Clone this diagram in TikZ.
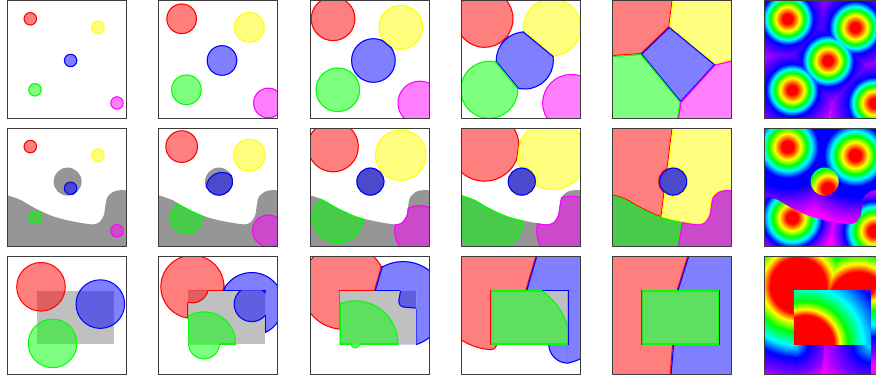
\documentclass[tikz,border=0pt]{standalone}
\usetikzlibrary{calc}
\definecolor{mud}{RGB}{150,150,150}
\definecolor{lgray}{RGB}{192,192,192}
\definecolor{framec}{RGB}{60,60,60}
\definecolor{mag}{rgb}{1,0,1}
\definecolor{yel}{rgb}{1,1,0}
\definecolor{cyn}{rgb}{0,1,1}
\definecolor{violetA}{rgb}{0.5,0,1}
\pgfdeclareradialshading{rainA}{\pgfpoint{0bp}{0bp}}{color(0bp)=(red); color(1.25bp)=(red); color(3bp)=(yel); color(4.25bp)=(green); color(5.25bp)=(cyn); color(6.5bp)=(blue); color(9.5bp)=(violetA); color(12.5bp)=(mag); color(50bp)=(mag)}
\pgfdeclareradialshading{rainW}{\pgfpoint{0bp}{0bp}}{color(0bp)=(red); color(1.5bp)=(red); color(3.25bp)=(yel); color(4.75bp)=(green); color(6bp)=(cyn); color(7.75bp)=(blue); color(10.5bp)=(blue); color(13.75bp)=(violetA); color(17.5bp)=(mag); color(50bp)=(mag)}
\pgfdeclareradialshading{rainG}{\pgfpoint{0bp}{0bp}}{color(0bp)=(red); color(1.5bp)=(red); color(3.25bp)=(yel); color(4.75bp)=(green); color(6bp)=(cyn); color(7.5bp)=(blue); color(9bp)=(violetA); color(11bp)=(mag); color(50bp)=(mag)}
\pgfdeclareradialshading{rainC}{\pgfpoint{0bp}{0bp}}{color(0bp)=(red); color(7bp)=(red); color(9bp)=(yel); color(11.5bp)=(green); color(15bp)=(cyn); color(18bp)=(blue); color(22bp)=(violetA); color(25bp)=(mag); color(50bp)=(mag)}
\pgfdeclareradialshading{rainCc}{\pgfpoint{0bp}{0bp}}{color(0bp)=(red); color(0.5bp)=(red); color(2.5bp)=(yel); color(5bp)=(green); color(8.5bp)=(cyn); color(11.5bp)=(blue); color(15.5bp)=(violetA); color(18.5bp)=(mag); color(50bp)=(mag)}
\pgfdeclareradialshading{rainCr}{\pgfpoint{0bp}{0bp}}{color(0bp)=(cyn); color(3.5bp)=(blue); color(7.5bp)=(violetA); color(10.5bp)=(mag); color(50bp)=(mag)}
\pgfdeclareradialshading{rainCb}{\pgfpoint{0bp}{0bp}}{color(0bp)=(cyn); color(4.5bp)=(blue); color(9bp)=(violetA); color(13.75bp)=(mag); color(50bp)=(mag)}
\pgfdeclareradialshading{rainD}{\pgfpoint{0bp}{0bp}}{color(0bp)=(red); color(7.25bp)=(red); color(8.75bp)=(yel); color(10.75bp)=(green); color(14.5bp)=(cyn); color(20bp)=(blue); color(25bp)=(mag); color(50bp)=(mag)}
\tikzset{bd/.style={line width=2pt}, frm/.style={draw=framec, line width=1pt}, half/.style={fill opacity=0.5}}
% half-plane clip (points nearer #1 than #2) and bisector stroke
\newcommand\halfclip[2]{\coordinate (hm) at ($(#1)!0.5!(#2)$);
  \clip ($(hm)!600pt!90:(#2)$) -- ($(hm)!600pt!-90:(#2)$) -- ($(hm)!1200pt!180:(#2)$) -- cycle;}
\newcommand\bisline[3]{\coordinate (hm) at ($(#1)!0.5!(#2)$);
  \draw[#3, bd] ($(hm)!600pt!90:(#2)$) -- ($(hm)!600pt!-90:(#2)$);}
\newcommand\cellR{\halfclip{R}{Y}\halfclip{R}{B}\halfclip{R}{G}\halfclip{R}{M}}
\newcommand\cellY{\halfclip{Y}{R}\halfclip{Y}{B}\halfclip{Y}{G}\halfclip{Y}{M}}
\newcommand\cellB{\halfclip{B}{R}\halfclip{B}{Y}\halfclip{B}{G}\halfclip{B}{M}}
\newcommand\cellG{\halfclip{G}{R}\halfclip{G}{Y}\halfclip{G}{B}\halfclip{G}{M}}
\newcommand\cellM{\halfclip{M}{R}\halfclip{M}{Y}\halfclip{M}{B}\halfclip{M}{G}}
\newcommand\linesR[1]{\bisline{R}{Y}{#1}\bisline{R}{B}{#1}\bisline{R}{G}{#1}\bisline{R}{M}{#1}}
\newcommand\linesY[1]{\bisline{Y}{R}{#1}\bisline{Y}{B}{#1}\bisline{Y}{G}{#1}\bisline{Y}{M}{#1}}
\newcommand\linesB[1]{\bisline{B}{R}{#1}\bisline{B}{Y}{#1}\bisline{B}{G}{#1}\bisline{B}{M}{#1}}
\newcommand\linesG[1]{\bisline{G}{R}{#1}\bisline{G}{Y}{#1}\bisline{G}{B}{#1}\bisline{G}{M}{#1}}
\newcommand\linesM[1]{\bisline{M}{R}{#1}\bisline{M}{Y}{#1}\bisline{M}{B}{#1}\bisline{M}{G}{#1}}
\newcommand\seedsA{\coordinate (R) at (23,18.3); \coordinate (Y) at (90.7,26.8); \coordinate (B) at (63.3,60); \coordinate (G) at (27.7,89.3); \coordinate (M) at (109.7,102.5);}
\newcommand\regA[3]{\begin{scope}\csname cell#1\endcsname\clip (#1) circle (#3);
  \fill[#2,half] (-5,-5) rectangle (125,125);
  \draw[#2,bd] (#1) circle (#3);
  \csname lines#1\endcsname{#2}\end{scope}}
\newcommand\rowone[1]{\seedsA\regA{R}{red}{#1}\regA{Y}{yel}{#1}\regA{B}{blue}{#1}\regA{G}{green}{#1}\regA{M}{mag}{#1}}
\newcommand\shadecell[2]{\begin{scope}\csname cell#1\endcsname\shade[shading=#2] (#1) circle (100);\end{scope}}
% row 2 domains
\newcommand\pathW{(-5,-5) -- (-5,67) -- plot[smooth] coordinates {(0,67) (13,71.5) (26,79) (43,87) (58,91.5) (76,95) (86,96) (92,94) (96.5,87) (98,78) (100,69) (106,63.5) (112,62) (119,62)} -- (125,62) -- (125,-5) -- cycle}
\newcommand\pathG{(-5,67) -- plot[smooth] coordinates {(0,67) (13,71.5) (26,79) (43,87) (58,91.5) (76,95) (86,96) (92,94) (96.5,87) (98,78) (100,69) (106,63.5) (112,62) (119,62)} -- (125,62) -- (125,125) -- (-5,125) -- cycle}
\newcommand\pathBnd{plot[smooth] coordinates {(0,67) (13,71.5) (26,79) (43,87) (58,91.5) (76,95) (86,96) (92,94) (96.5,87) (98,78) (100,69) (106,63.5) (112,62) (119,62)}}
\newcommand\pathD{(60.3,53.3) circle (14)}
\newcommand\inW{\clip \pathW \pathD;}
\newcommand\edgeW[1]{\draw[#1,bd] \pathBnd; \draw[#1,bd] \pathD;}
\newcommand\edgeG[1]{\draw[#1,bd] \pathBnd;}
\newcommand\regB[5]{\begin{scope}#4\clip (#1) circle (#3);
  \fill[#2,half] (-5,-5) rectangle (125,125);
  \draw[#2,bd] (#1) circle (#3); #5\end{scope}}
\newcommand\rowtwo[1]{\seedsA
  \fill[mud] \pathG; \fill[mud] \pathD;
  \regB{R}{red}{#1}{\inW\halfclip{R}{Y}}{\edgeW{red}\bisline{R}{Y}{red}}
  \regB{Y}{yel}{#1}{\inW\halfclip{Y}{R}}{\edgeW{yel}\bisline{Y}{R}{yel}}
  \regB{B}{blue}{#1}{\clip \pathD;}{\draw[blue,bd] \pathD;}
  \regB{G}{green}{#1}{\clip \pathG; \halfclip{G}{M}}{\edgeG{green}\bisline{G}{M}{green}}
  \regB{M}{mag}{#1}{\clip \pathG; \halfclip{M}{G}}{\edgeG{mag}\bisline{M}{G}{mag}}}
% row 3
\newcommand\qrect{(29.5,34.7) rectangle (106.3,88)}
\newcommand\seedsC{\coordinate (R) at (33.7,30.7); \coordinate (B) at (93,48); \coordinate (G) at (45.3,87.3); \coordinate (CL) at (29.5,88); \coordinate (CR) at (106.3,88); \coordinate (CT) at (106.3,34.7);}
\newcommand\clipout{\clip (-5,-5) rectangle (125,125) \qrect;}
\newcommand\clipin{\clip \qrect;}
\newcommand\notcirc[2]{\clip (-5,-5) rectangle (125,125) (#1) circle (#2);}
\newcommand\notrect[2]{\clip (-5,-5) rectangle (125,125) #1 rectangle #2;}
\newcommand\piece[6]{\begin{scope}#1#5\clip (#2) circle (#4);
  \fill[#3,half] (-5,-5) rectangle (125,125);
  \draw[#3,bd] (#2) circle (#4); #6\end{scope}}
\newcommand\qedge[2]{\begin{scope}#2\draw[#1,bd] \qrect;\end{scope}}
\newcommand\polyR{(-5,-5) -- (76.9,-5) -- (64.5,34.7) -- (60.2,88) -- (57.2,125) -- (-5,125) -- cycle}
\newcommand\polyB{(76.9,-5) -- (125,-5) -- (125,125) -- (57.2,125) -- (60.2,88) -- (64.5,34.7) -- cycle}
\newcommand\pnl[3]{\begin{scope}[shift={(#1,#2)}]
  \begin{scope}\clip (0,0) rectangle (119,118.5); #3\end{scope}
  \draw[frm] (0,0) rectangle (119,118.5);\end{scope}}
\begin{document}
\begin{tikzpicture}[x=1pt,y=-1pt,even odd rule]
\useasboundingbox (0,0) rectangle (876,379);
\clip (0,0) rectangle (876,379);
\fill[white] (0,0) rectangle (876,379);
% ---------- row 1
\pnl{7.3}{0.5}{\rowone{6.7}}
\pnl{158.7}{0.5}{\rowone{15.3}}
\pnl{310.1}{0.5}{\rowone{22.3}}
\pnl{461.5}{0.5}{\rowone{29}}
\pnl{612.9}{0.5}{\rowone{300}}
\pnl{764.3}{0.5}{\seedsA\shade[shading=rainA] (R) circle (100);
  \shadecell{Y}{rainA}\shadecell{B}{rainA}\shadecell{G}{rainA}\shadecell{M}{rainA}}
% ---------- row 2
\pnl{7.3}{128.3}{\rowtwo{6.7}}
\pnl{158.7}{128.3}{\rowtwo{16.3}}
\pnl{310.1}{128.3}{\rowtwo{25.7}}
\pnl{461.5}{128.3}{\rowtwo{35}}
\pnl{612.9}{128.3}{\rowtwo{300}}
\pnl{764.3}{128.3}{\seedsA
  \shade[shading=rainW] (R) circle (100);
  \begin{scope}\inW\halfclip{Y}{R}\shade[shading=rainW] (Y) circle (100);\end{scope}
  \begin{scope}\clip \pathD; \shade[shading=rainG] (B) circle (100);\end{scope}
  \begin{scope}\clip \pathG; \shade[shading=rainG] (G) circle (100);\end{scope}
  \begin{scope}\clip \pathG; \halfclip{M}{G}\shade[shading=rainG] (M) circle (100);\end{scope}}
% ---------- row 3
\pnl{7.3}{256.1}{\seedsC \fill[lgray] \qrect;
  \draw[red, line width=1pt, fill=red, half] (R) circle (24.3);
  \draw[blue, line width=1pt, fill=blue, half] (B) circle (24.3);
  \draw[green, line width=1pt, fill=green, half] (G) circle (24.3);}
\pnl{158.7}{256.1}{\seedsC \fill[lgray] \qrect;
  \piece{\clipout}{R}{red}{32}{\halfclip{R}{B}}{\bisline{R}{B}{red}}
  \piece{\clipin}{R}{red}{16.5}{}{}
  \qedge{red}{\clipout\halfclip{R}{B}\clip (R) circle (32);\notcirc{R}{16.5}}
  \piece{\clipout}{B}{blue}{32}{\halfclip{B}{R}}{\bisline{B}{R}{blue}}
  \piece{\clipin}{B}{blue}{18}{}{}
  \qedge{blue}{\clipout\halfclip{B}{R}\clip (B) circle (32);\notcirc{B}{18}}
  \piece{\clipout}{G}{green}{16}{}{}
  \piece{\clipin}{G}{green}{32}{}{}
  \qedge{green}{\clipin\clip (G) circle (32);\notcirc{G}{16}}}
\pnl{310.1}{256.1}{\seedsC \fill[lgray] \qrect;
  \piece{\clipout}{R}{red}{43}{\halfclip{R}{B}}{\bisline{R}{B}{red}}
  \qedge{red}{\clipout\halfclip{R}{B}\clip (R) circle (43);}
  \piece{\clipout}{B}{blue}{43}{\halfclip{B}{R}\notrect{(-5,88)}{(106.3,125)}}{\bisline{B}{R}{blue}}
  \qedge{blue}{\clipout\halfclip{B}{R}\notrect{(-5,88)}{(106.3,125)}\notrect{(89.5,-5)}{(125,52.5)}\clip (B) circle (43);}
  \begin{scope}\clip (90,34.7) -- (88.3,44) .. controls (88.3,49) and (90,51.2) .. (95,51.6) -- (106.3,52.5) -- (106.3,34.7) -- cycle;
    \fill[blue,half] (-5,-5) rectangle (125,125);
    \draw[blue,bd] (90,34.7) -- (88.3,44) .. controls (88.3,49) and (90,51.2) .. (95,51.6) -- (106.3,52.5);\end{scope}
  \piece{\clipin}{G}{green}{43}{}{}
  \piece{\clipout}{G}{green}{5}{}{}
  \qedge{green}{\clipin\clip (G) circle (43);\notcirc{G}{5}}}
\pnl{461.5}{256.1}{\seedsC \fill[lgray] \qrect;
  \piece{\clipout}{R}{red}{63.5}{\halfclip{R}{B}\notrect{(29.5,88)}{(125,125)}}{\bisline{R}{B}{red}}
  \piece{\clipout}{CL}{red}{6}{\clip (29.5,88) rectangle (125,125);}{}
  \qedge{red}{\clipout\halfclip{R}{B}\notrect{(29.5,88)}{(125,125)}\clip (R) circle (63.5);}
  \qedge{red}{\clipout\clip (29.5,88) rectangle (125,125); \clip (CL) circle (6);}
  \piece{\clipout}{B}{blue}{61}{\halfclip{B}{R}\notrect{(-5,88)}{(106.3,125)}}{\bisline{B}{R}{blue}}
  \piece{\clipout}{CR}{blue}{19.5}{\clip (-5,88) rectangle (106.3,125);}{}
  \qedge{blue}{\clipout\halfclip{B}{R}\notrect{(-5,88)}{(106.3,125)}\clip (B) circle (61);}
  \qedge{blue}{\clipout\clip (-5,88) rectangle (106.3,125); \clip (CR) circle (19.5);}
  \piece{\clipin}{G}{green}{63.5}{}{}
  \qedge{green}{\clipin\clip (G) circle (63.5);}}
\pnl{612.9}{256.1}{\seedsC \fill[lgray] \qrect;
  \begin{scope}\clipout\clip \polyR; \fill[red,half] \polyR; \draw[red,bd] \polyR; \draw[red,bd] \qrect;\end{scope}
  \begin{scope}\clipout\clip \polyB; \fill[blue,half] \polyB; \draw[blue,bd] \polyB; \draw[blue,bd] \qrect;\end{scope}
  \begin{scope}\clipin \fill[green,half] \qrect; \draw[green,bd] \qrect;\end{scope}}
\pnl{764.3}{256.1}{\seedsC
  \shade[shading=rainCr] (CL) circle (100);
  \begin{scope}\notrect{(29.5,88)}{(125,125)}\shade[shading=rainC] (33.7,29.2) circle (100);\end{scope}
  \begin{scope}\clip \polyB; \notrect{(-5,88)}{(106.3,125)}\notrect{(106.3,34.7)}{(125,125)}\shade[shading=rainC] (93.4,43.6) circle (100);\end{scope}
  \begin{scope}\clip (106.3,34.7) rectangle (125,125); \shade[shading=rainCc] (CT) circle (100);\end{scope}
  \begin{scope}\clip \polyB; \clip (-5,88) rectangle (106.3,125); \shade[shading=rainCb] (CR) circle (100);\end{scope}
  \begin{scope}\clipin \shade[shading=rainD] (40.5,88) circle (100);\end{scope}}
\end{tikzpicture}
\end{document}
